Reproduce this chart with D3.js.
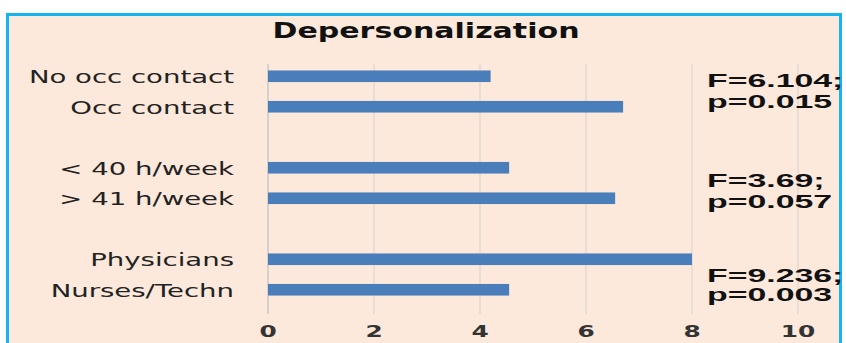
<!DOCTYPE html>
<html>
<head>
<meta charset="utf-8">
<script src="https://cdn.jsdelivr.net/npm/d3@7"></script>
<style>
  body { margin: 0; background: #fff; }
  svg { display: block; }
</style>
</head>
<body>
<svg id="chart" width="846" height="343"></svg>
<script>
// categories top to bottom, blank keys are the gaps between groups
var categories = ["No occ contact", "Occ contact", "gap1", "< 40 h/week", "> 41 h/week", "gap2", "Physicians", "Nurses/Techn"]
var values = [4.2, 6.7, null, 4.55, 6.55, null, 8.0, 4.55]
var xTicks = [0, 2, 4, 6, 8, 10]
var statLines = [["F=6.104;", "p=0.015"], ["F=3.69;", "p=0.057"], ["F=9.236;", "p=0.003"]]
var statAnchor = ["No occ contact", "< 40 h/week", "Physicians"]

var svg = d3.select("#chart")

// the original picture is stretched sideways, so text gets a horizontal scale
function wideText(parent, x, y, sx, txt) {
    return parent.append("g")
        .attr("transform", "translate(" + x + "," + y + ") scale(" + sx + ",1)")
        .append("text")
        .text(txt)
}

// panel
svg.append("rect")
    .attr("x", 7.5).attr("y", 14.5)
    .attr("width", 833).attr("height", 340)
    .attr("fill", "#fce9db")
    .attr("stroke", "#14b4ee")
    .attr("stroke-width", 3)

wideText(svg, 426, 38, 1.43, "Depersonalization")
    .attr("text-anchor", "middle")
    .attr("font-family", "DejaVu Sans")
    .attr("font-weight", "bold")
    .attr("font-size", "21px")
    .attr("fill", "#111")

var xScale = d3.scaleLinear()
    .domain([0, 10])
    .range([268, 798])

var yScale = d3.scaleBand()
    .domain(categories)
    .range([61, 305])
    .paddingInner(0.62)
    .paddingOuter(0.31)

// gridlines
svg.append("g")
    .selectAll("line")
    .data(xTicks)
    .enter()
    .append("line")
    .attr("x1", d => xScale(d)).attr("x2", d => xScale(d))
    .attr("y1", 64).attr("y2", 314)
    .attr("stroke", d => d == 0 ? "#c8c8c8" : "#e2dad4")
    .attr("stroke-width", 1.5)

// bars
var barData = categories.map((c, i) => ({cat: c, v: values[i]})).filter(d => d.v != null)
svg.append("g")
    .selectAll("rect")
    .data(barData)
    .enter()
    .append("rect")
    .attr("x", xScale(0))
    .attr("y", d => yScale(d.cat))
    .attr("width", d => xScale(d.v) - xScale(0))
    .attr("height", yScale.bandwidth())
    .attr("fill", "#4a7ebb")

// category labels
var labelG = svg.append("g")
barData.forEach(d => {
    wideText(labelG, 234, yScale(d.cat) + yScale.bandwidth() / 2, 1.62, d.cat)
        .attr("dy", "0.42em")
        .attr("text-anchor", "end")
        .attr("font-family", "DejaVu Sans")
        .attr("font-size", "17px")
        .attr("fill", "#222")
})

// x axis tick labels
var tickG = svg.append("g")
xTicks.forEach(t => {
    wideText(tickG, xScale(t), 337, 1.55, xScale.tickFormat()(t))
        .attr("text-anchor", "middle")
        .attr("font-family", "DejaVu Sans")
        .attr("font-weight", "bold")
        .attr("font-size", "16px")
        .attr("fill", "#333")
})

// F / p annotations
var statOffset = [17, 25, 29]
var statGap = [21, 21, 19]
statLines.forEach((lines, i) => {
    var y0 = yScale(statAnchor[i]) + statOffset[i]
    lines.forEach((t, j) => {
        wideText(svg, 707, y0 + j * statGap[i], 1.88, t)
            .attr("font-family", "Liberation Sans")
            .attr("font-weight", "bold")
            .attr("font-size", "18px")
            .attr("fill", "#111")
    })
})
</script>
</body>
</html>
